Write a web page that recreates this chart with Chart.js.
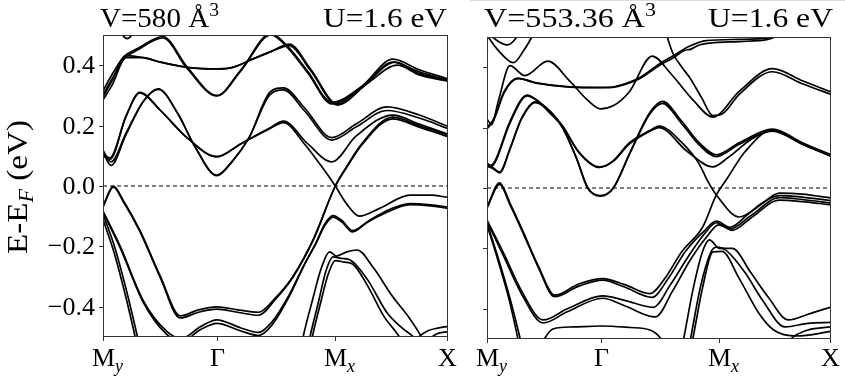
<!DOCTYPE html>
<html>
<head>
<meta charset="utf-8">
<script src="https://cdn.jsdelivr.net/npm/chart.js@4.4.0/dist/chart.umd.min.js"></script>
<style>
  html, body { margin: 0; padding: 0; background: #fff; }
  #wrap { position: relative; width: 845px; height: 379px; overflow: hidden; }
  #left { position: absolute; left: 0; top: 0; }
  #right { position: absolute; left: 465px; top: 0; }
</style>
</head>
<body>
<div id="wrap">
  <canvas id="left" width="465" height="379"></canvas>
  <canvas id="right" width="380" height="379"></canvas>
</div>
<script>
// k-path ticks and labels
const kTicks = [0, 0.99, 2.02, 3];
const kLabels = [['M', 'y'], ['\u0393', ''], ['M', 'x'], ['X', '']];
const eTicks = [-0.4, -0.2, 0, 0.2, 0.4];
const eTickLabels = ['\u22120.4', '\u22120.2', '0.0', '0.2', '0.4'];
const fermi = [[0, 0], [3, 0]];

// ---------- left panel: V=580 A^3 ----------
const L_U  = [[0.12,0.54],[0.17,0.5],[0.21,0.488],[0.25,0.5],[0.3,0.54]];
const L_A1 = [[0,0.315],[0.08,0.37],[0.18,0.428],[0.3,0.455],[0.52,0.495],[0.73,0.395],[0.99,0.30],[1.2,0.385],[1.46,0.505],[1.6,0.465],[1.78,0.38],[1.99,0.277],[2.25,0.33],[2.52,0.42],[2.75,0.385],[3,0.355]];
const L_A2 = [[0,0.302],[0.08,0.355],[0.18,0.42],[0.3,0.45],[0.52,0.49],[0.73,0.39],[0.99,0.298],[1.2,0.382],[1.46,0.5],[1.6,0.46],[1.78,0.375],[1.99,0.272],[2.25,0.325],[2.52,0.41],[2.75,0.378],[3,0.35]];
const L_B1 = [[0,0.295],[0.08,0.35],[0.2,0.432],[0.35,0.425],[0.5,0.41],[0.75,0.392],[1.0,0.388],[1.12,0.392],[1.3,0.42],[1.46,0.445],[1.62,0.47],[1.8,0.39],[2.04,0.272],[2.3,0.345],[2.54,0.41],[2.75,0.372],[3,0.35]];
const L_B2 = [[0,0.285],[0.08,0.335],[0.2,0.425],[0.35,0.425],[0.5,0.41],[0.75,0.392],[1.0,0.388],[1.12,0.392],[1.3,0.42],[1.46,0.445],[1.62,0.465],[1.8,0.385],[2.04,0.268],[2.3,0.34],[2.56,0.4],[2.75,0.368],[3,0.347]];
const L_C1 = [[0,0.11],[0.07,0.068],[0.2,0.17],[0.35,0.28],[0.48,0.322],[0.65,0.24],[0.8,0.13],[0.99,0.034],[1.12,0.08],[1.27,0.16],[1.45,0.31],[1.57,0.325],[1.75,0.26],[1.99,0.16],[2.2,0.205],[2.47,0.262],[2.75,0.235],[3,0.197]];
const L_C2 = [[0,0.118],[0.07,0.08],[0.2,0.175],[0.35,0.28],[0.48,0.32],[0.65,0.24],[0.8,0.13],[0.99,0.036],[1.12,0.08],[1.27,0.16],[1.45,0.302],[1.57,0.318],[1.75,0.25],[1.99,0.152],[2.2,0.195],[2.47,0.25],[2.75,0.225],[3,0.19]];
const L_D1 = [[0,0.1],[0.06,0.088],[0.2,0.23],[0.32,0.31],[0.5,0.25],[0.73,0.16],[0.99,0.096],[1.2,0.14],[1.45,0.192],[1.57,0.215],[1.78,0.14],[1.99,0.08],[2.2,0.165],[2.52,0.235],[2.75,0.205],[3,0.172]];
const L_D2 = [[0,0.105],[0.06,0.093],[0.2,0.232],[0.32,0.308],[0.5,0.25],[0.73,0.16],[0.99,0.098],[1.2,0.14],[1.45,0.19],[1.57,0.21],[1.75,0.14],[1.9,0.065],[2.02,0],[2.12,-0.06],[2.23,-0.1],[2.4,-0.075],[2.67,-0.03],[2.85,-0.03],[3,-0.038]];
const L_V1 = [[0,-0.066],[0.09,0.0],[0.18,-0.05],[0.32,-0.146],[0.5,-0.3],[0.67,-0.43],[0.83,-0.41],[0.99,-0.4],[1.17,-0.41],[1.35,-0.418],[1.5,-0.37],[1.65,-0.3],[1.83,-0.175],[2.02,0],[2.12,0.065],[2.25,0.14],[2.52,0.228],[2.75,0.2],[3,0.168]];
const L_V1b = [[0,-0.07],[0.09,-0.004],[0.18,-0.054],[0.32,-0.15],[0.5,-0.305],[0.67,-0.437],[0.83,-0.418],[0.99,-0.408],[1.17,-0.418],[1.35,-0.428],[1.5,-0.375],[1.65,-0.303],[1.83,-0.178],[2.02,0],[2.12,0.062],[2.25,0.136],[2.52,0.222],[2.75,0.195],[3,0.163]];
const L_V2 = [[0,-0.083],[0.15,-0.2],[0.35,-0.38],[0.55,-0.48],[0.68,-0.505],[0.85,-0.465],[0.99,-0.443],[1.2,-0.47],[1.35,-0.485],[1.47,-0.45],[1.62,-0.36],[1.75,-0.26],[1.85,-0.19],[1.93,-0.125],[2.0,-0.098],[2.08,-0.115],[2.17,-0.148],[2.3,-0.118],[2.45,-0.085],[2.67,-0.058],[2.85,-0.062],[3,-0.07]];
const L_V2b = [[0,-0.086],[0.15,-0.205],[0.35,-0.385],[0.55,-0.49],[0.68,-0.515],[0.85,-0.475],[0.99,-0.455],[1.2,-0.48],[1.35,-0.495],[1.47,-0.46],[1.62,-0.365],[1.75,-0.262],[1.85,-0.192],[1.93,-0.13],[2.0,-0.103],[2.08,-0.12],[2.17,-0.152],[2.3,-0.12],[2.45,-0.09],[2.67,-0.062],[2.85,-0.066],[3,-0.074]];
const L_S1 = [[0,-0.093],[0.1,-0.2],[0.2,-0.34],[0.3,-0.5],[0.34,-0.57]];
const L_S2 = [[0,-0.11],[0.1,-0.225],[0.2,-0.37],[0.28,-0.5],[0.32,-0.57]];
const L_W1 = [[1.7,-0.58],[1.74,-0.5],[1.82,-0.38],[1.9,-0.27],[1.97,-0.218],[2.03,-0.232],[2.12,-0.218],[2.21,-0.212],[2.35,-0.27],[2.52,-0.367],[2.65,-0.43],[2.76,-0.493],[2.82,-0.53]];
const L_W2 = [[1.76,-0.58],[1.8,-0.5],[1.87,-0.39],[1.94,-0.28],[2.0,-0.235],[2.08,-0.24],[2.15,-0.245],[2.3,-0.31],[2.47,-0.42],[2.6,-0.47],[2.7,-0.5],[2.76,-0.53]];
const L_W3 = [[1.78,-0.58],[1.82,-0.5],[1.89,-0.39],[1.96,-0.29],[2.02,-0.247],[2.1,-0.252],[2.17,-0.258],[2.3,-0.33],[2.44,-0.43],[2.56,-0.49],[2.63,-0.53]];
const L_R1 = [[2.55,-0.58],[2.7,-0.515],[2.82,-0.48],[2.92,-0.47],[3,-0.465]];
const L_R2 = [[2.68,-0.57],[2.8,-0.52],[2.9,-0.49],[3,-0.482]];

// ---------- right panel: V=553.36 A^3 ----------
const R_U  = [[0,0.52],[0.08,0.49],[0.18,0.474],[0.25,0.495],[0.3,0.53]];
const R_V  = [[0,0.505],[0.1,0.455],[0.23,0.415],[0.32,0.455],[0.39,0.5],[0.44,0.54]];
const R_A1 = [[0,0.228],[0.04,0.21],[0.1,0.29],[0.2,0.405],[0.33,0.372],[0.53,0.42],[0.72,0.355],[0.88,0.29],[0.99,0.262],[1.1,0.272],[1.24,0.318],[1.44,0.437],[1.6,0.38],[1.8,0.29],[1.97,0.235],[2.2,0.32],[2.49,0.395],[2.75,0.355],[3,0.318]];
const R_B1 = [[0,0.2],[0.06,0.23],[0.15,0.32],[0.27,0.364],[0.43,0.348],[0.72,0.335],[1.0,0.333],[1.12,0.336],[1.24,0.35],[1.33,0.365],[1.5,0.41],[1.62,0.437],[1.77,0.47],[1.91,0.488],[2.2,0.492],[2.45,0.497],[2.6,0.52]];
const R_B2 = [[0,0.196],[0.06,0.226],[0.15,0.316],[0.27,0.362],[0.43,0.347],[0.72,0.334],[1.0,0.332],[1.12,0.335],[1.24,0.348],[1.33,0.362],[1.5,0.405],[1.62,0.43],[1.72,0.455],[1.78,0.46],[1.84,0.472],[1.95,0.48],[2.2,0.485],[2.45,0.492],[2.6,0.515]];
const R_S  = [[1.5,0.56],[1.55,0.523],[1.62,0.447],[1.7,0.4],[1.77,0.364],[1.87,0.3],[1.97,0.24],[2.05,0.245],[2.2,0.31],[2.49,0.385],[2.75,0.345],[3,0.31]];
const R_C1 = [[0,0.083],[0.03,0.075],[0.07,0.09],[0.2,0.22],[0.35,0.308],[0.44,0.29],[0.55,0.25],[0.66,0.205],[0.8,0.12],[0.98,0.07],[1.1,0.09],[1.24,0.149],[1.42,0.19],[1.5,0.205],[1.7,0.15],[1.85,0.08],[1.92,0.026],[2.0,-0.023],[2.2,-0.096],[2.4,-0.05],[2.55,-0.017],[2.75,-0.02],[3,-0.033]];
const R_C2 = [[0,0.078],[0.03,0.07],[0.07,0.085],[0.2,0.215],[0.35,0.305],[0.44,0.288],[0.55,0.248],[0.66,0.203],[0.8,0.118],[0.98,0.068],[1.1,0.088],[1.24,0.145],[1.42,0.188],[1.5,0.2],[1.75,0.12],[1.97,0.07],[2.1,0.1],[2.3,0.16],[2.49,0.19],[2.75,0.145],[3,0.105]];
const R_D1 = [[0,0.075],[0.05,0.068],[0.11,0.053],[0.2,0.13],[0.3,0.23],[0.42,0.285],[0.55,0.255],[0.66,0.2],[0.78,0.1],[0.88,0],[0.99,-0.025],[1.1,0],[1.25,0.12],[1.42,0.25],[1.53,0.287],[1.7,0.22],[1.85,0.15],[2.0,0.11],[2.2,0.15],[2.49,0.195],[2.75,0.15],[3,0.11]];
const R_D2 = [[0,0.072],[0.05,0.065],[0.11,0.05],[0.2,0.128],[0.3,0.228],[0.42,0.283],[0.55,0.253],[0.66,0.198],[0.78,0.098],[0.88,-0.002],[0.99,-0.027],[1.1,-0.002],[1.25,0.118],[1.42,0.245],[1.53,0.28],[1.7,0.212],[1.85,0.143],[2.0,0.104],[2.2,0.145],[2.49,0.188],[2.75,0.145],[3,0.105]];
const R_V1 = [[0,-0.063],[0.11,0.017],[0.2,-0.05],[0.31,-0.14],[0.45,-0.26],[0.59,-0.355],[0.8,-0.318],[1.01,-0.3],[1.2,-0.32],[1.42,-0.35],[1.55,-0.3],[1.7,-0.21],[1.88,-0.13],[2.0,-0.023],[2.1,0.035],[2.25,0.12],[2.49,0.192],[2.75,0.147],[3,0.108]];
const R_V1b = [[0,-0.066],[0.11,0.012],[0.2,-0.055],[0.31,-0.145],[0.45,-0.265],[0.59,-0.36],[0.8,-0.325],[1.01,-0.305],[1.2,-0.328],[1.44,-0.362],[1.58,-0.3],[1.73,-0.21],[1.9,-0.14],[2.0,-0.11],[2.12,-0.13],[2.29,-0.083],[2.55,-0.025],[2.75,-0.03],[3,-0.042]];
const R_V2 = [[0,-0.106],[0.15,-0.22],[0.3,-0.34],[0.49,-0.437],[0.7,-0.4],[1.01,-0.357],[1.2,-0.372],[1.45,-0.395],[1.6,-0.32],[1.75,-0.23],[1.9,-0.15],[2.0,-0.115],[2.12,-0.135],[2.3,-0.092],[2.55,-0.032],[2.75,-0.038],[3,-0.05]];
const R_V2b = [[0,-0.11],[0.15,-0.23],[0.3,-0.35],[0.49,-0.447],[0.7,-0.41],[1.01,-0.365],[1.2,-0.39],[1.47,-0.427],[1.62,-0.34],[1.77,-0.24],[1.92,-0.16],[2.02,-0.122],[2.14,-0.14],[2.3,-0.1],[2.55,-0.04],[2.75,-0.045],[3,-0.056]];
const R_S1 = [[0,-0.115],[0.1,-0.235],[0.2,-0.365],[0.29,-0.5],[0.33,-0.57]];
const R_S2 = [[0,-0.122],[0.1,-0.245],[0.2,-0.38],[0.27,-0.5],[0.31,-0.57]];
const R_F  = [[0.42,-0.57],[0.5,-0.5],[0.58,-0.466],[0.75,-0.46],[1.0,-0.457],[1.25,-0.462],[1.42,-0.47],[1.52,-0.5],[1.6,-0.56]];
const R_W1 = [[1.68,-0.57],[1.72,-0.49],[1.8,-0.33],[1.88,-0.21],[1.94,-0.172],[2.03,-0.2],[2.14,-0.2],[2.3,-0.28],[2.45,-0.36],[2.63,-0.437],[2.8,-0.418],[3,-0.394]];
const R_W2 = [[1.74,-0.57],[1.78,-0.49],[1.86,-0.33],[1.95,-0.215],[2.0,-0.196],[2.08,-0.205],[2.25,-0.28],[2.4,-0.37],[2.6,-0.46],[2.8,-0.448],[3,-0.445]];
const R_W3 = [[1.76,-0.57],[1.8,-0.49],[1.88,-0.33],[1.97,-0.212],[2.05,-0.21],[2.2,-0.3],[2.38,-0.42],[2.5,-0.47],[2.7,-0.49],[3,-0.475]];
const R_R1 = [[2.5,-0.58],[2.65,-0.5],[2.8,-0.47],[3,-0.46]];

const leftBands = [L_U, L_A1, L_A2, L_B1, L_B2, L_C1, L_C2, L_D1, L_D2, L_V1, L_V1b, L_V2, L_V2b, L_S1, L_S2, L_W1, L_W2, L_W3, L_R1, L_R2];
const rightBands = [R_U, R_V, R_A1, R_B1, R_B2, R_S, R_C1, R_C2, R_D1, R_D2, R_V1, R_V1b, R_V2, R_V2b, R_S1, R_S2, R_F, R_W1, R_W2, R_W3, R_R1];

const SERIF = '"Liberation Serif", "DejaVu Serif", serif';

// draws a run of text pieces (for sub/superscripts); width = optional target width
function drawRun(ctx, parts, x, y, align, width) {
  let total = 0;
  parts.forEach(p => {
    ctx.font = (p.italic ? 'italic ' : '') + p.size + 'px ' + SERIF;
    p.w = ctx.measureText(p.t).width;
    total += p.w;
  });
  const sx = width ? width / total : 1;
  const tw = total * sx;
  let cx = x;
  if (align === 'center') cx = x - tw / 2;
  if (align === 'right') cx = x - tw;
  ctx.save();
  ctx.translate(cx, y);
  ctx.scale(sx, 1);
  let ox = 0;
  parts.forEach(p => {
    ctx.font = (p.italic ? 'italic ' : '') + p.size + 'px ' + SERIF;
    ctx.fillText(p.t, ox, p.dy || 0);
    ox += p.w;
  });
  ctx.restore();
}

function decorPlugin(cfg) {
  return {
    id: 'decor',
    afterDraw(chart) {
      const { ctx, chartArea: a, scales: { x, y } } = chart;
      ctx.save();
      ctx.fillStyle = '#000';
      ctx.textAlign = 'left';
      ctx.textBaseline = 'alphabetic';

      // frame
      ctx.strokeStyle = '#333';
      ctx.lineWidth = 1;
      ctx.strokeRect(Math.round(a.left) + 0.5, Math.round(a.top) + 0.5,
        Math.round(a.right - a.left) - 1, Math.round(a.bottom - a.top) - 1);

      // x ticks + labels
      kTicks.forEach((k, i) => {
        let px = Math.round(x.getPixelForValue(k)) + 0.5;
        if (i === kTicks.length - 1) px -= 1;
        ctx.beginPath();
        ctx.moveTo(px, a.bottom);
        ctx.lineTo(px, a.bottom + 4);
        ctx.stroke();
        const [main, sub] = kLabels[i];
        const parts = [{ t: main, size: 26 }];
        if (sub) parts.push({ t: sub, size: 18, dy: 6, italic: true });
        drawRun(ctx, parts, px + (sub ? 4 : 0), 366, 'center');
      });

      // y ticks (+ labels on left panel)
      eTicks.forEach((v, i) => {
        const py = Math.round(y.getPixelForValue(v)) + 0.5;
        ctx.beginPath();
        ctx.moveTo(a.left - 4, py);
        ctx.lineTo(a.left, py);
        ctx.stroke();
        if (cfg.yLabels) {
          ctx.font = '26px ' + SERIF;
          ctx.textAlign = 'right';
          ctx.textBaseline = 'middle';
          ctx.fillText(eTickLabels[i], a.left - 8, py + 1);
          ctx.textAlign = 'left';
          ctx.textBaseline = 'alphabetic';
        }
      });

      // y axis title
      if (cfg.yTitle) {
        ctx.save();
        ctx.translate(27, 187);
        ctx.rotate(-Math.PI / 2);
        drawRun(ctx, [{ t: 'E-E', size: 30 }, { t: 'F', size: 20, dy: 6, italic: true }, { t: ' (eV)', size: 30 }], 0, 0, 'center', 134);
        ctx.restore();
      }

      // panel titles
      drawRun(ctx, [{ t: cfg.vol, size: 28 }, { t: '3', size: 19, dy: -11 }], cfg.titleX, 27, 'left', cfg.volW);
      drawRun(ctx, [{ t: 'U=1.6 eV', size: 28 }], cfg.uX, 27, 'right', cfg.uW);

      if (cfg.topRule) {
        ctx.strokeStyle = '#dcdcdc';
        ctx.beginPath();
        ctx.moveTo(5, 0.5);
        ctx.lineTo(chart.width, 0.5);
        ctx.stroke();
      }
      ctx.restore();
    }
  };
}

function makePanel(id, bands, padding, cfg) {
  const datasets = bands.map(b => ({
    data: b.map(([k, e]) => ({ x: k, y: e })),
    borderColor: '#000',
    borderWidth: 1.7,
    pointRadius: 0,
    fill: false,
    cubicInterpolationMode: 'monotone'
  }));
  datasets.push({
    data: fermi.map(([k, e]) => ({ x: k, y: e })),
    borderColor: '#000',
    borderWidth: 1,
    borderDash: [4, 3],
    pointRadius: 0,
    fill: false
  });
  return new Chart(document.getElementById(id), {
    type: 'line',
    data: { datasets },
    options: {
      responsive: false,
      animation: false,
      events: [],
      layout: { padding },
      plugins: { legend: { display: false }, tooltip: { enabled: false } },
      scales: {
        x: { type: 'linear', min: 0, max: 3, display: false },
        y: { type: 'linear', min: -0.5, max: 0.5, display: false }
      }
    },
    plugins: [decorPlugin(cfg)]
  });
}

makePanel('left', leftBands, { left: 103, right: 17, top: 35, bottom: 42 },
  { yLabels: true, yTitle: true, vol: 'V=580 \u00c5', titleX: 100, uX: 447, volW: 119, uW: 124 });
makePanel('right', rightBands, { left: 22, right: 14, top: 37, bottom: 40 },
  { yLabels: false, yTitle: false, vol: 'V=553.36 \u00c5', titleX: 19, uX: 368, volW: 172, uW: 125, topRule: true });
</script>
</body>
</html>
